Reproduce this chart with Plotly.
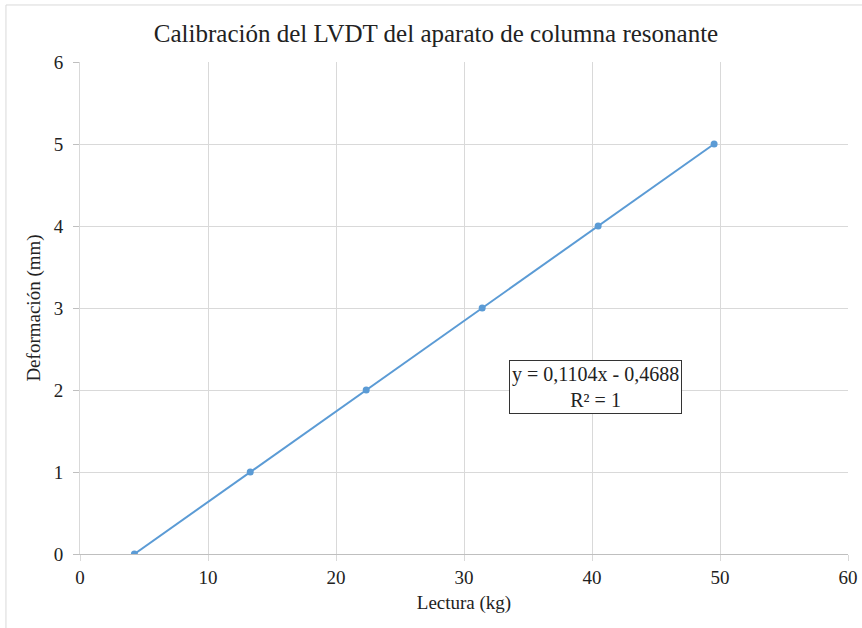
import plotly.graph_objects as go

lectura_kg = [4.25, 13.30, 22.36, 31.42, 40.48, 49.54]
deformacion_mm = [0, 1, 2, 3, 4, 5]
x_ticks = [0, 10, 20, 30, 40, 50, 60]
y_ticks = [0, 1, 2, 3, 4, 5, 6]

title_text = "Calibración del LVDT del aparato de columna resonante"
eq_text = "y = 0,1104x - 0,4688<br>R² = 1"

font_fam = "Liberation Serif"
blue = "#5B9BD5"
txt = "#222222"

fig = go.Figure()
fig.add_trace(go.Scatter(
    x=lectura_kg, y=deformacion_mm, mode="lines+markers",
    line=dict(color=blue, width=2),
    marker=dict(color=blue, size=7),
    showlegend=False,
))

fig.add_annotation(
    x=40.3, y=2.04, xref="x", yref="y", text=eq_text, showarrow=False,
    font=dict(family=font_fam, size=20, color=txt),
    bordercolor="#333", borderwidth=1, borderpad=2, bgcolor="white",
    align="center",
)

fig.add_shape(type="rect", xref="paper", yref="paper",
              x0=-0.0964, x1=1.05, y0=-0.3, y1=1.1159,
              line=dict(color="#d9d9d9", width=1), layer="below")

fig.update_layout(
    width=862, height=628,
    margin=dict(l=80, r=14, t=62, b=74),
    paper_bgcolor="white", plot_bgcolor="white",
    title=dict(text=title_text, x=436 / 862, xref="container", xanchor="center",
               y=1 - 33 / 628, yanchor="middle", yref="container",
               font=dict(family=font_fam, size=25, color=txt)),
    font=dict(family=font_fam, color=txt),
)
fig.update_xaxes(
    range=[0, 60], tickvals=x_ticks, showgrid=True, gridcolor="#d9d9d9",
    showline=True, linecolor="#bfbfbf", zeroline=False,
    ticks="outside", ticklen=6, tickcolor="#d9d9d9",
    tickfont=dict(size=19, family=font_fam, color=txt),
    title=dict(text="Lectura (kg)", font=dict(size=19, family=font_fam, color=txt), standoff=8),
    automargin=False,
)
fig.update_yaxes(
    range=[0, 6], tickvals=y_ticks, showgrid=True, gridcolor="#d9d9d9",
    showline=True, linecolor="#d9d9d9", zeroline=False,
    ticks="outside", ticklen=6, tickcolor="#bfbfbf",
    ticklabelstandoff=6,
    tickfont=dict(size=19, family=font_fam, color=txt),
    title=dict(text="Deformación (mm)", font=dict(size=19, family=font_fam, color=txt), standoff=8),
    automargin=False,
)
fig.write_html("out.html")
